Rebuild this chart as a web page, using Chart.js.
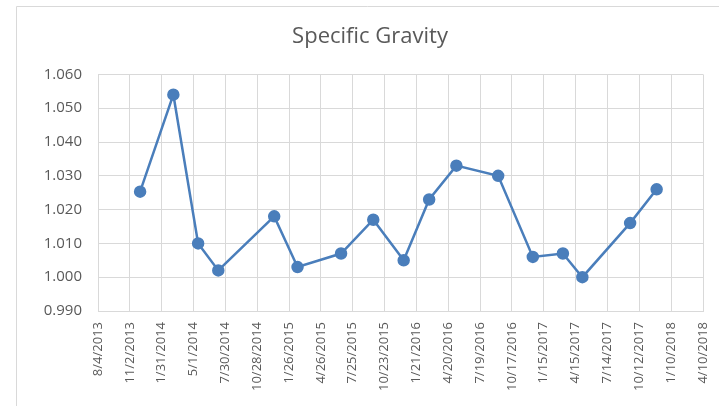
<!DOCTYPE html>
<html>
<head>
<meta charset="utf-8">
<script src="https://cdn.jsdelivr.net/npm/chart.js@4"></script>
<style>
  body { margin: 0; background: #fff; overflow: hidden; }
  #wrap { width: 719px; height: 406px; }
</style>
</head>
<body>
<div id="wrap"><canvas id="sgChart" width="719" height="406"></canvas></div>
<script>
// sample dates and specific gravity readings
const sampleDates = ['12/1/2013', '3/5/2014', '5/14/2014', '7/10/2014', '12/15/2014', '2/19/2015',
  '6/22/2015', '9/21/2015', '12/16/2015', '2/26/2016', '5/13/2016', '9/8/2016',
  '12/15/2016', '3/10/2017', '5/4/2017', '9/16/2017', '11/30/2017'];
const gravity = [1.0253, 1.054, 1.010, 1.002, 1.018, 1.003,
  1.007, 1.017, 1.005, 1.023, 1.033, 1.030,
  1.006, 1.007, 1.000, 1.016, 1.026];

// axis range: 8/4/2013 to 4/10/2018, every 90 days
const axisStart = '8/4/2013';
const axisEnd = '4/10/2018';
const axisStepDays = 90;
const yMin = 0.990;
const yMax = 1.060;
const yStep = 0.010;

const DAY = 86400000;
function toUTC(s) {
  const [m, d, y] = s.split('/').map(Number);
  return Date.UTC(y, m - 1, d);
}
const base = toUTC(axisStart);
function toDays(s) { return Math.round((toUTC(s) - base) / DAY); }
function fmtDate(days) {
  const dt = new Date(base + days * DAY);
  return (dt.getUTCMonth() + 1) + '/' + dt.getUTCDate() + '/' + dt.getUTCFullYear();
}

const points = sampleDates.map((d, i) => ({ x: toDays(d), y: gravity[i] }));

const gridColor = '#d9d9d9';
const textColor = '#595959';
const lineColor = '#4a7ebb';

const frame = {
  id: 'frame',
  beforeDraw(chart) {
    const ctx = chart.ctx;
    ctx.save();
    ctx.strokeStyle = gridColor;
    ctx.lineWidth = 1;
    ctx.beginPath();
    ctx.moveTo(16.5, chart.height);
    ctx.lineTo(16.5, 6.5);
    ctx.lineTo(chart.width, 6.5);
    ctx.stroke();
    ctx.restore();
  }
};

new Chart(document.getElementById('sgChart').getContext('2d'), {
  type: 'line',
  data: {
    datasets: [
      {
        label: 'Specific Gravity',
        data: points,
        borderColor: lineColor,
        backgroundColor: lineColor,
        borderWidth: 2.5,
        pointRadius: 5,
        pointHoverRadius: 5,
        pointBackgroundColor: lineColor,
        pointBorderColor: lineColor,
        tension: 0,
      },
    ],
  },
  options: {
    responsive: false,
    animation: false,
    layout: { padding: { left: 37, right: 16, top: 0, bottom: 0 } },
    plugins: {
      legend: { display: false },
      tooltip: { enabled: false },
      title: {
        display: true,
        text: 'Specific Gravity',
        color: textColor,
        font: { family: 'Open Sans', size: 22, weight: 'normal' },
        padding: { top: 24, bottom: 24 },
      },
    },
    scales: {
      x: {
        type: 'linear',
        min: 0,
        max: toDays(axisEnd),
        afterFit(scale) {
          scale.height = 95;
          scale.paddingLeft = 0;
          scale.paddingRight = 0;
        },
        afterBuildTicks(scale) {
          const ticks = [];
          for (let v = 0; v <= toDays(axisEnd); v += axisStepDays) ticks.push({ value: v });
          scale.ticks = ticks;
        },
        grid: { color: gridColor, drawTicks: false },
        border: { color: gridColor },
        ticks: {
          autoSkip: false,
          minRotation: 90,
          maxRotation: 90,
          padding: 11,
          color: textColor,
          font: { family: 'Open Sans', size: 13 },
          callback: (v) => fmtDate(v),
        },
      },
      y: {
        min: yMin,
        max: yMax,
        afterFit(scale) { scale.width = 61; },
        grid: { color: gridColor, drawTicks: false },
        border: { color: gridColor },
        ticks: {
          stepSize: yStep,
          padding: 16,
          color: textColor,
          font: { family: 'Open Sans', size: 15 },
          callback: (v) => v.toFixed(3),
        },
      },
    },
  },
  plugins: [frame],
});
</script>
</body>
</html>
